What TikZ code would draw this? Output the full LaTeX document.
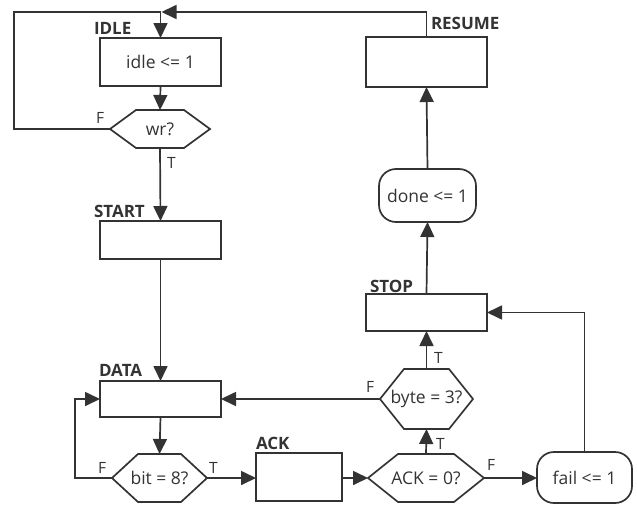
\documentclass[tikz,border=0pt]{standalone}
\usepackage{fontspec}
\setmainfont{Open Sans}
\usetikzlibrary{arrows.meta}
\definecolor{ln}{HTML}{333333}
\definecolor{tx}{HTML}{333333}
\begin{document}
\begin{tikzpicture}[x=1pt,y=-1pt,
  every node/.style={text=tx, outer sep=0pt, inner sep=0pt},
  line/.style={draw=ln, line width=1.7pt},
  arr/.style={line, -{Triangle[length=15pt,width=14pt]}},
  box/.style={line, rectangle},
  pill/.style={line, rectangle, rounded corners=17pt},
  hexa/.style={rectangle},
  txt/.style={font=\fontsize{17.5}{20}\selectfont},
  ttl/.style={font=\fontsize{17}{20}\selectfont\bfseries, anchor=base west},
  tf/.style={font=\fontsize{15.5}{18}\selectfont, anchor=base west}]
\useasboundingbox (0,0) rectangle (637,506);

% nodes
\node[box,txt,minimum width=121pt,minimum height=48pt] (idle) at (160.5,62) {idle <= 1};
\node[hexa,txt,minimum width=100pt,minimum height=38pt] (wr) at (160,129) {wr?};
\node[box,minimum width=121pt,minimum height=38pt] (start) at (160.5,240) {};
\node[box,minimum width=121pt,minimum height=36pt] (data) at (160.5,399) {};
\node[hexa,txt,minimum width=95pt,minimum height=48pt] (bit) at (159.5,478) {bit = 8?};
\node[box,minimum width=86pt,minimum height=48pt] (ack) at (299,477) {};
\node[hexa,txt,minimum width=116pt,minimum height=48pt] (ackq) at (426,478) {ACK = 0?};
\node[pill,txt,minimum width=95pt,minimum height=51pt] (fail) at (584.5,477.5) {fail <= 1};
\node[hexa,txt,minimum width=93pt,minimum height=60pt] (byte) at (426.5,399) {byte = 3?};
\node[box,minimum width=121pt,minimum height=37pt] (stop) at (426.5,312.5) {};
\node[pill,txt,minimum width=97pt,minimum height=53pt] (done) at (427.5,195.5) {done <= 1};
\node[box,minimum width=121pt,minimum height=50pt] (resume) at (426.5,62) {};

% hexagon outlines
\foreach \n/\s in {wr/26,bit/26,ackq/30,byte/24}{
  \draw[line] (\n.west) -- ([xshift=\s pt]\n.north west) -- ([xshift=-\s pt]\n.north east)
    -- (\n.east) -- ([xshift=-\s pt]\n.south east) -- ([xshift=\s pt]\n.south west) -- cycle;
}

% titles
\node[ttl] (tidle) at (94,34.5) {IDLE};
\node[ttl] (tstart) at (94,217.5) {START};
\node[ttl] (tdata) at (99,376.5) {DATA};
\node[ttl] (tack) at (256,449.5) {ACK};
\node[ttl] (tstop) at (370,292.5) {STOP};
\node[ttl] (tresume) at (431,29.5) {RESUME};

% coordinates
\coordinate (tl) at (14,12);
\coordinate (tj) at (161.5,12);
\coordinate (dl) at (75,399);

% connectors
\draw[arr] (idle.south) -- (wr.north);
\draw[arr] (wr.west) -| (tl) -| (idle.north);
\draw[arr] (resume.north) |- (tj);
\draw[arr] (wr.south) -- (start.north);
\draw[arr] (start.south) -- (data.north);
\draw[arr] (data.south) -- (bit.north);
\draw[arr] (bit.west) -| (dl) -- (data.west);
\draw[arr] (bit.east) -- (ack.west |- bit.east);
\draw[arr] (ack.east |- ackq.west) -- (ackq.west);
\draw[arr] (ackq.east) -- (fail.west |- ackq.east);
\draw[arr] (ackq.north) -- (byte.south);
\draw[arr] (byte.west) -- (data.east);
\draw[arr] (byte.north) -- (stop.south);
\draw[arr] (fail.north) |- (stop.east);
\draw[arr] (stop.north) -- (done.south);
\draw[arr] (done.north) -- (resume.south);

% T/F labels
\node[tf] (f1) at (96,123) {F};
\node[tf] (t1) at (167,168) {T};
\node[tf] (f2) at (98,473) {F};
\node[tf] (t2) at (209,473) {T};
\node[tf] (f3) at (487,470) {F};
\node[tf] (t3) at (436,449) {T};
\node[tf] (f4) at (366,392) {F};
\node[tf] (t4) at (434,363) {T};
\end{tikzpicture}
\end{document}
